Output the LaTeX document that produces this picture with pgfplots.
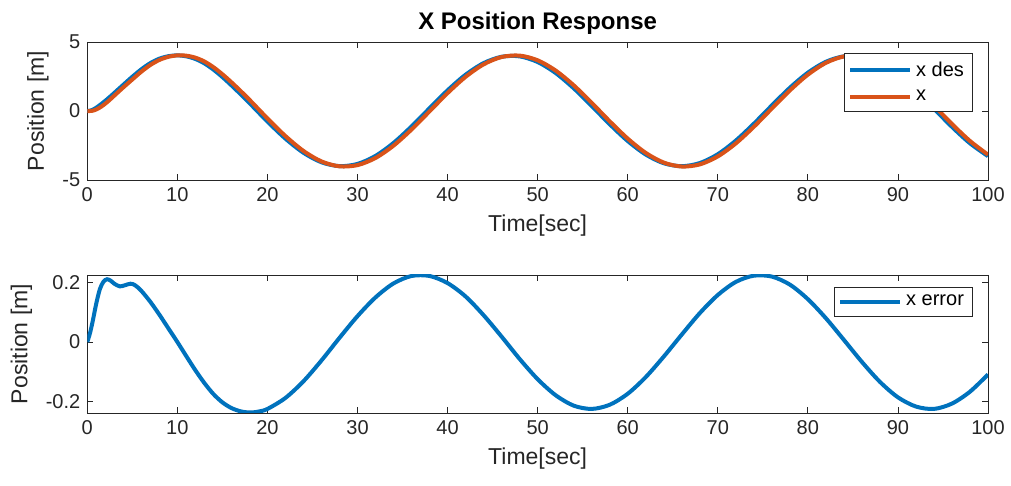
\documentclass[border=0pt]{standalone}
\usepackage{fontspec}
\setmainfont{Liberation Sans}
\usepackage{pgfplots}
\pgfplotsset{compat=1.18}
\definecolor{mblue}{RGB}{0,114,189}
\definecolor{morange}{RGB}{217,83,25}
\definecolor{axgray}{RGB}{38,38,38}
\begin{document}
\begin{tikzpicture}
\path[use as bounding box] (0,0) rectangle (505.5pt,243pt);
\pgfplotsset{
  mystyle/.style={
    scale only axis, width=450.35pt, height=69pt,
    xmin=0, xmax=100, xtick={0,10,...,100},
    axis line style={axgray, line width=0.4pt},
    tick style={axgray, line width=0.4pt},
    major tick length=3pt,
    tick align=inside,
    xtick pos=both, ytick pos=both,
    xticklabel pos=lower, yticklabel pos=left,
    ticklabel style={font=\fontsize{10}{12}\selectfont, text=axgray},
    label style={font=\fontsize{11.5}{13}\selectfont, text=axgray},
    xlabel={Time[sec]},
    ylabel={Position [m]},
    /pgf/number format/assume math mode=true,
    legend style={font=\fontsize{10}{12}\selectfont, draw=axgray, line width=0.4pt, text=black, row sep=1.5pt, inner xsep=2pt, inner ysep=2pt},
    legend cell align=left,
    legend image code/.code={\draw[#1, line width=2pt] (0pt,0pt) -- (30pt,0pt);},
    every axis plot/.append style={line width=2pt, smooth},
  }
}
\begin{axis}[mystyle, at={(43.65pt,153pt)}, anchor=south west,
  ymin=-5, ymax=5, ytick={-5,0,5}, yticklabels={-5,0,5},
  title={X Position Response},
  title style={font=\fontsize{12}{14}\selectfont\bfseries, text=black, yshift=-6pt},
  legend style={at={(0.9826,0.918)}, anchor=north east}]
\addplot[mblue] coordinates {
(0,0) (0.5,0.06) (1,0.24) (1.5,0.48) (2,0.74) (2.5,1.02) (3,1.31) (4,1.90) (5,2.48) (6,3.02) (7,3.47) (8,3.79) (9,3.97) (10,4.03) (11,3.96)
(12,3.77) (13,3.45) (14,3.00) (15,2.46) (16,1.86) (17,1.23) (18,0.58) (20,-0.762) (22,-2.005) (24,-3.027) (26,-3.716) (28,-3.996)
(30,-3.836) (32,-3.254) (34,-2.313) (36,-1.118) (38,0.200) (40,1.497) (42,2.628) (44,3.470) (46,3.930)
(48,3.958) (50,3.549) (52,2.750) (54,1.648) (56,0.366) (58,-0.958) (60,-2.176) (62,-3.154) (64,-3.786)
(66,-4.000) (68,-3.774) (70,-3.133) (72,-2.146) (74,-0.924) (76,0.400) (78,1.681) (80,2.776) (82,3.566)
(84,3.962) (86,3.923) (88,3.452) (90,2.601) (92,1.464) (94,0.165) (96,-1.152) (98,-2.342) (100,-3.274)
};
\addlegendentry{x des}
\addplot[morange] coordinates {
(0,0) (0.5,0.005) (1,0.11) (1.5,0.295) (2,0.533) (2.5,0.812) (3,1.114) (4,1.711) (5,2.285) (6,2.848) (7,3.335) (8,3.698) (9,3.924) (10,4.03) (11,4.008)
(12,3.865) (13,3.588) (14,3.175) (15,2.663) (16,2.082) (17,1.463) (18,0.817) (20,-0.537) (22,-1.817) (24,-2.895) (26,-3.654) (28,-4.010)
(30,-3.923) (32,-3.404) (34,-2.510) (36,-1.340) (38,-0.022) (40,1.299) (42,2.475) (44,3.380) (46,3.912)
(48,4.015) (50,3.674) (52,2.929) (54,1.862) (56,0.591) (58,-0.747) (60,-2.002) (62,-3.036) (64,-3.737)
(66,-4.025) (68,-3.871) (70,-3.291) (72,-2.348) (74,-1.147) (76,0.180) (78,1.488) (80,2.632) (82,3.486)
(84,3.955) (86,3.990) (88,3.586) (90,2.787) (92,1.681) (94,0.390) (96,-0.945) (98,-2.175) (100,-3.165)
};
\addlegendentry{x}
\end{axis}
\begin{axis}[mystyle, at={(43.65pt,36.5pt)}, anchor=south west,
  ymin=-0.2387, ymax=0.2253, ytick={-0.2,0,0.2}, yticklabels={-0.2,0,0.2},
  legend style={at={(0.9826,0.915)}, anchor=north east}]
\addplot[mblue] coordinates {
(0,0) (0.3,0.03) (0.6,0.07) (1.0,0.13) (1.4,0.178) (1.8,0.203) (2.2,0.211) (2.6,0.206) (3.0,0.196)
(3.6,0.187) (4.2,0.191) (4.8,0.196) (5.3,0.191) (6.0,0.172) (7.0,0.135) (8.0,0.092) (9.0,0.046)
(10,0.0) (11,-0.048) (12,-0.095) (13,-0.138) (14,-0.175) (15,-0.203) (16,-0.222) (17,-0.233)
(18,-0.237) (19,-0.234) (20,-0.225) (22,-0.188) (24,-0.132) (26,-0.062) (28,0.014) (30,0.087)
(32,0.150) (34,0.197) (36,0.222) (38,0.222) (40,0.198) (42,0.153) (44,0.090) (46,0.018) (48,-0.057)
(50,-0.125) (52,-0.179) (54,-0.214) (56,-0.225) (58,-0.211) (60,-0.174) (62,-0.118) (64,-0.049)
(66,0.025) (68,0.097) (70,0.158) (72,0.202) (74,0.223) (76,0.220) (78,0.193) (80,0.144) (82,0.080)
(84,0.007) (86,-0.067) (88,-0.134) (90,-0.186) (92,-0.217) (94,-0.225) (96,-0.207) (98,-0.167) (100,-0.109)
};
\addlegendentry{x error}
\end{axis}
\end{tikzpicture}
\end{document}
